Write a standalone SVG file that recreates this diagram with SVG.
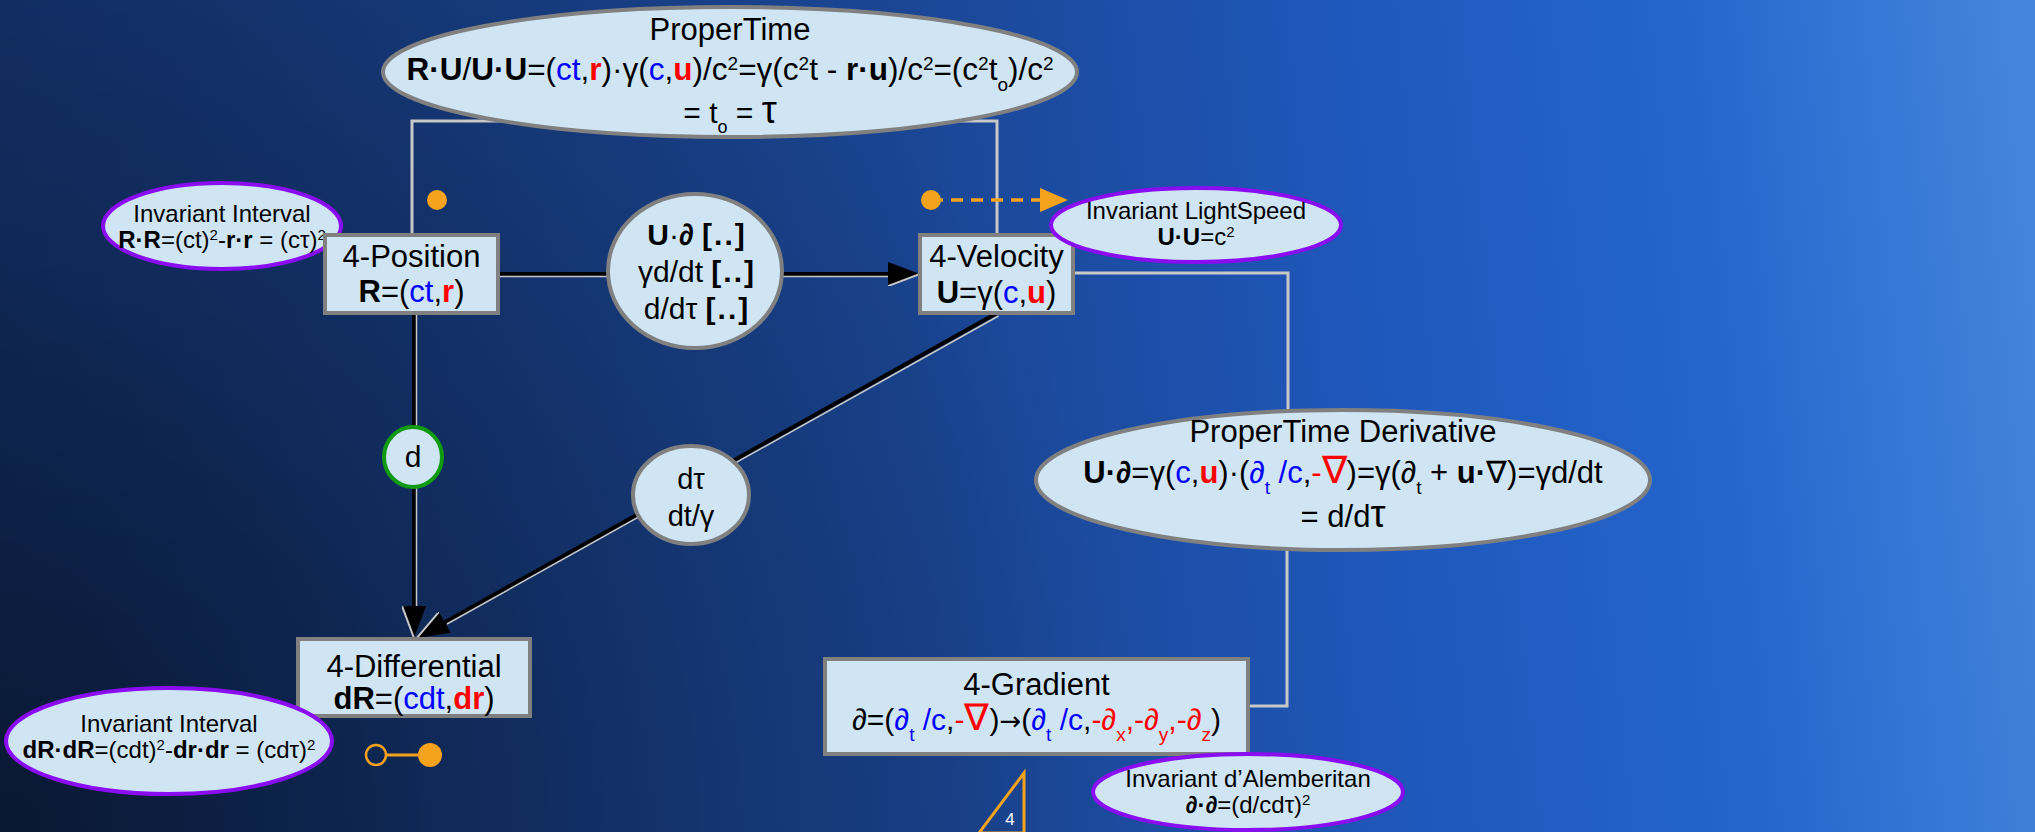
<svg xmlns="http://www.w3.org/2000/svg" width="2035" height="832" viewBox="0 0 2035 832">
<defs>
<linearGradient id="bg" gradientUnits="userSpaceOnUse" x1="0" y1="500" x2="2035" y2="300">
<stop offset="0" stop-color="#143470"/>
<stop offset="0.45" stop-color="#1a4592"/>
<stop offset="0.68" stop-color="#1f58bc"/>
<stop offset="0.84" stop-color="#2465cc"/>
<stop offset="1" stop-color="#4484dc"/>
</linearGradient>
<radialGradient id="shade" gradientUnits="userSpaceOnUse" cx="0" cy="832" r="1150">
<stop offset="0" stop-color="#000" stop-opacity="0.55"/>
<stop offset="0.5" stop-color="#000" stop-opacity="0.25"/>
<stop offset="1" stop-color="#000" stop-opacity="0"/>
</radialGradient>
<marker id="ah" viewBox="0 0 32 24" refX="12" refY="12" markerWidth="32" markerHeight="24" markerUnits="userSpaceOnUse" orient="auto">
<path d="M0,0 L32,12 L0,24 Z" fill="#000"/>
<path d="M32,12 L0,24" stroke="#c8c8c8" stroke-width="2" fill="none"/>
</marker>
<marker id="oah" viewBox="0 0 28 24" refX="2" refY="12" markerWidth="28" markerHeight="24" markerUnits="userSpaceOnUse" orient="auto">
<path d="M0,0 L28,12 L0,24 Z" fill="#f5a21c"/>
</marker>
<style>
.t{font-family:"Liberation Sans",Arial,sans-serif;fill:#000;text-anchor:middle}
.b{font-weight:bold}
.bl{fill:#0000ff}
.rd{fill:#ff0000}
.br{font-weight:bold;letter-spacing:2px}
.node{fill:#cfe5f3;stroke:#808080;stroke-width:4}
.inv{fill:#cfe5f3;stroke:#8a0cf0;stroke-width:4}
.gl{stroke:#c8c8c8;stroke-width:3;fill:none}
.bk{stroke:#000;stroke-width:4;fill:none}
.hl{stroke:#c8c8c8;stroke-width:1.5;fill:none}
.or{fill:#f5a21c}
</style>
</defs>
<rect x="0" y="0" width="2035" height="832" fill="url(#bg)"/>
<rect x="0" y="0" width="2035" height="832" fill="url(#shade)"/>

<g id="connectors">
<path class="gl" d="M412,235 V121 H997 V235"/>
<path class="gl" d="M1073,273 H1288 V411"/>
<path class="gl" d="M1287,548 V706 H1248"/>
<line class="bk" x1="498" y1="274" x2="900" y2="274" marker-end="url(#ah)"/>
<line class="hl" x1="498" y1="276.5" x2="888" y2="276.5"/>
<line class="bk" x1="414" y1="313" x2="414" y2="618" marker-end="url(#ah)"/>
<line class="hl" x1="416.5" y1="313" x2="416.5" y2="606"/>
<line class="bk" x1="997" y1="313" x2="434.4" y2="628.2" marker-end="url(#ah)"/>
<line class="hl" x1="998.5" y1="316" x2="447" y2="624"/>
<line x1="931" y1="200" x2="1042" y2="200" stroke="#f5a21c" stroke-width="3.5" stroke-dasharray="12,8" marker-end="url(#oah)"/>
<circle class="or" cx="931" cy="200" r="10"/>
<circle class="or" cx="437" cy="200" r="10"/>
<line x1="386" y1="755" x2="420" y2="755" stroke="#f5a21c" stroke-width="3"/>
<circle cx="376" cy="755" r="10" fill="none" stroke="#f5a21c" stroke-width="2.5"/>
<circle class="or" cx="430" cy="755" r="12"/>
</g>

<g id="inv-interval-r">
<ellipse class="inv" cx="222" cy="226" rx="119" ry="43"/>
<text class="t" x="222" y="222" font-size="24">Invariant Interval</text>
<text class="t" x="222" y="248" font-size="24"><tspan class="b">R·R</tspan>=(ct)<tspan font-size="15" baseline-shift="super">2</tspan>-<tspan class="b">r·r</tspan> = (cτ)<tspan font-size="15" baseline-shift="super">2</tspan></text>
</g>

<g id="propertime">
<ellipse class="node" cx="730" cy="72" rx="347" ry="65"/>
<text class="t" x="730" y="40" font-size="31">ProperTime</text>
<text class="t" x="730" y="80" font-size="31.5"><tspan class="b">R·U</tspan>/<tspan class="b">U·U</tspan>=(<tspan class="bl">ct</tspan>,<tspan class="rd b">r</tspan>)·γ(<tspan class="bl">c</tspan>,<tspan class="rd b">u</tspan>)/c<tspan font-size="19" baseline-shift="super">2</tspan>=γ(c<tspan font-size="19" baseline-shift="super">2</tspan>t - <tspan class="b">r·u</tspan>)/c<tspan font-size="19" baseline-shift="super">2</tspan>=(c<tspan font-size="19" baseline-shift="super">2</tspan>t<tspan font-size="19" baseline-shift="sub">o</tspan>)/c<tspan font-size="19" baseline-shift="super">2</tspan></text>
<text class="t" x="730" y="123" font-size="30">= t<tspan font-size="18" baseline-shift="sub">o</tspan> = <tspan font-size="38">τ</tspan></text>
</g>

<g id="position">
<rect class="node" x="325" y="235" width="173" height="78"/>
<text class="t" x="411.5" y="267" font-size="31">4-Position</text>
<text class="t" x="411.5" y="302" font-size="31"><tspan class="b">R</tspan>=(<tspan class="bl">ct</tspan>,<tspan class="rd b">r</tspan>)</text>
</g>

<g id="u-partial">
<ellipse class="node" cx="695" cy="271" rx="87" ry="77"/>
<text class="t" x="697" y="245" font-size="30"><tspan class="b">U</tspan>·<tspan class="b">∂</tspan> <tspan class="br">[..]</tspan></text>
<text class="t" x="697" y="282" font-size="30">γd/dt <tspan class="br">[..]</tspan></text>
<text class="t" x="697" y="319" font-size="30">d/dτ <tspan class="br">[..]</tspan></text>
</g>

<g id="velocity">
<rect class="node" x="920" y="235" width="153" height="78"/>
<text class="t" x="996.5" y="267" font-size="31">4-Velocity</text>
<text class="t" x="996.5" y="303" font-size="31"><tspan class="b">U</tspan>=γ(<tspan class="bl">c</tspan>,<tspan class="rd b">u</tspan>)</text>
</g>

<g id="inv-lightspeed">
<ellipse class="inv" cx="1196" cy="225" rx="145" ry="37"/>
<text class="t" x="1196" y="219" font-size="24">Invariant LightSpeed</text>
<text class="t" x="1196" y="245" font-size="24"><tspan class="b">U·U</tspan>=c<tspan font-size="15" baseline-shift="super">2</tspan></text>
</g>

<g id="d-op">
<ellipse cx="413" cy="457" rx="29" ry="30" fill="#cfe5f3" stroke="#109a10" stroke-width="4"/>
<text class="t" x="413" y="467" font-size="30">d</text>
</g>

<g id="dtau-op">
<ellipse class="node" cx="691" cy="495" rx="58" ry="49"/>
<text class="t" x="691" y="489" font-size="29">dτ</text>
<text class="t" x="691" y="526" font-size="29">dt/γ</text>
</g>

<g id="propertime-derivative">
<ellipse class="node" cx="1343" cy="480" rx="307" ry="70"/>
<text class="t" x="1343" y="442" font-size="31">ProperTime Derivative</text>
<text class="t" x="1343" y="483" font-size="31"><tspan class="b">U·∂</tspan>=γ(<tspan class="bl">c</tspan>,<tspan class="rd b">u</tspan>)·(<tspan class="bl">∂<tspan font-size="19" baseline-shift="sub">t</tspan> /c</tspan>,<tspan class="rd">-<tspan font-size="38">∇</tspan></tspan>)=γ(∂<tspan font-size="19" baseline-shift="sub">t</tspan> + <tspan class="b">u·</tspan>∇)=γd/dt</text>
<text class="t" x="1343" y="527" font-size="31">= d/d<tspan font-size="38">τ</tspan></text>
</g>

<g id="differential">
<rect class="node" x="298" y="639" width="232" height="77"/>
<text class="t" x="414" y="677" font-size="31">4-Differential</text>
<text class="t" x="414" y="709" font-size="31"><tspan class="b">dR</tspan>=(<tspan class="bl">cdt</tspan>,<tspan class="rd b">dr</tspan>)</text>
</g>

<g id="inv-interval-dr">
<ellipse class="inv" cx="169" cy="741" rx="163" ry="53"/>
<text class="t" x="169" y="732" font-size="24">Invariant Interval</text>
<text class="t" x="169" y="758" font-size="24"><tspan class="b">dR·dR</tspan>=(cdt)<tspan font-size="15" baseline-shift="super">2</tspan>-<tspan class="b">dr·dr</tspan> = (cdτ)<tspan font-size="15" baseline-shift="super">2</tspan></text>
</g>

<g id="gradient">
<rect class="node" x="825" y="659" width="423" height="95"/>
<text class="t" x="1036.5" y="695" font-size="31">4-Gradient</text>
<text class="t" x="1036.5" y="730" font-size="30">∂=(<tspan class="bl">∂<tspan font-size="19" baseline-shift="sub">t</tspan> /c</tspan>,<tspan class="rd">-<tspan font-size="37">∇</tspan></tspan>)<tspan font-family="DejaVu Sans, sans-serif" font-size="26">→</tspan>(<tspan class="bl">∂<tspan font-size="19" baseline-shift="sub">t</tspan> /c</tspan>,<tspan class="rd">-∂<tspan font-size="19" baseline-shift="sub">x</tspan>,-∂<tspan font-size="19" baseline-shift="sub">y</tspan>,-∂<tspan font-size="19" baseline-shift="sub">z</tspan></tspan>)</text>
</g>

<g id="inv-dalembertian">
<ellipse class="inv" cx="1248" cy="792" rx="155" ry="38"/>
<text class="t" x="1248" y="787" font-size="24">Invariant d’Alemberitan</text>
<text class="t" x="1248" y="813" font-size="24"><tspan class="b">∂·∂</tspan>=(d/cdτ)<tspan font-size="15" baseline-shift="super">2</tspan></text>
</g>

<g id="slide-number">
<path d="M1024,773 L979,833 L1024,833 Z" fill="none" stroke="#f5a21c" stroke-width="3"/>
<text class="t" x="1010" y="825" font-size="17" style="fill:#fff">4</text>
</g>
</svg>
